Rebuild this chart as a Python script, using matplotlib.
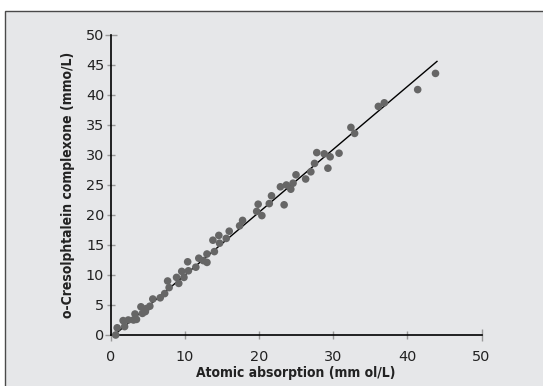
import matplotlib
matplotlib.use("Agg")
import matplotlib.pyplot as plt
from matplotlib.patches import Rectangle

# Data
atomic_abs = [0.7, 0.9, 1.7, 1.9, 2.4, 3.1, 3.3, 3.5, 4.1, 4.3, 4.7, 4.8, 5.3, 5.7,
              6.7, 7.3, 7.7, 7.9, 8.9, 9.2, 9.6, 9.9, 10.4, 10.5, 11.5, 11.9, 12.5,
              13.0, 13.0, 13.8, 14.0, 14.6, 14.7, 15.6, 16.0, 17.4, 17.8, 19.7, 19.9,
              20.4, 21.4, 21.7, 22.9, 23.4, 23.7, 24.3, 24.6, 25.0, 26.3, 27.0, 27.5,
              27.8, 28.8, 29.3, 29.6, 30.8, 32.4, 32.9, 36.1, 36.9, 41.4, 43.8]
ocpc = [0.0, 1.2, 2.4, 1.4, 2.5, 2.5, 3.5, 2.6, 4.7, 3.6, 3.9, 4.4, 4.8, 6.0,
        6.2, 6.9, 9.0, 7.9, 9.6, 8.6, 10.6, 9.6, 12.2, 10.7, 11.3, 12.8, 12.4,
        12.1, 13.5, 15.8, 13.9, 16.6, 15.3, 16.1, 17.3, 18.2, 19.1, 20.6, 21.8,
        19.9, 21.9, 23.2, 24.7, 21.7, 25.0, 24.3, 25.3, 26.7, 26.0, 27.2, 28.6,
        30.4, 30.2, 27.8, 29.7, 30.3, 34.6, 33.6, 38.1, 38.7, 40.9, 43.6]
fit_x = [0.5, 44.0]
fit_y = [0.0, 45.6]
x_ticks = [0, 10, 20, 30, 40, 50]
y_ticks = [0, 5, 10, 15, 20, 25, 30, 35, 40, 45, 50]

fig = plt.figure(figsize=(5.43, 3.86), dpi=100)
fig.patch.set_facecolor("#e6e7e9")
fig.patches.append(Rectangle((5 / 543, -0.1), 1.2, 1 - 11 / 386 + 0.1,
                             transform=fig.transFigure, facecolor="none",
                             edgecolor="#4a4a4a", linewidth=1.0, zorder=-1))
# white margins outside the frame
fig.patches.append(Rectangle((0, 0), 5 / 543, 1, transform=fig.transFigure,
                             facecolor="white", edgecolor="none", zorder=-2))
fig.patches.append(Rectangle((0, 1 - 11 / 386), 1, 11 / 386, transform=fig.transFigure,
                             facecolor="white", edgecolor="none", zorder=-2))

ax = fig.add_axes([110.5 / 543, 1 - 335 / 386, 371 / 543, 300 / 386])
ax.set_facecolor("none")
ax.set_xlim(0, 50)
ax.set_ylim(0, 50)
for s in ["top", "right"]:
    ax.spines[s].set_visible(False)
for s in ["left", "bottom"]:
    ax.spines[s].set_color("black")
    ax.spines[s].set_linewidth(1.2)

ax.plot(fit_x, fit_y, color="black", lw=1.0, zorder=2)
ax.scatter(atomic_abs, ocpc, s=30, color="#666666", edgecolors="none", zorder=3, clip_on=False)

ax.set_xticks(x_ticks)
ax.set_yticks(y_ticks)
ax.tick_params(axis="both", direction="inout", length=6, width=1.0, color="#999999",
               labelsize=10.4, labelcolor="#222222", pad=1.5)
ax.tick_params(axis="x", pad=8)
for t in [ax.xaxis.get_major_ticks()[-1], ax.xaxis.get_major_ticks()[0],
          ax.yaxis.get_major_ticks()[-1], ax.yaxis.get_major_ticks()[0]]:
    t.tick1line.set_color("black")
    t.tick1line.set_markersize(8)

ax.set_xlabel("Atomic absorption (mm ol/L)", fontsize=10, fontweight="bold",
              fontstretch="condensed", labelpad=1, color="#222222")
ax.set_ylabel("o-Cresolphtalein complexone (mmo/L)", fontsize=10, fontweight="bold",
              fontstretch="condensed", labelpad=8, color="#222222")

fig.savefig("out.png", dpi=100, facecolor=fig.get_facecolor())
